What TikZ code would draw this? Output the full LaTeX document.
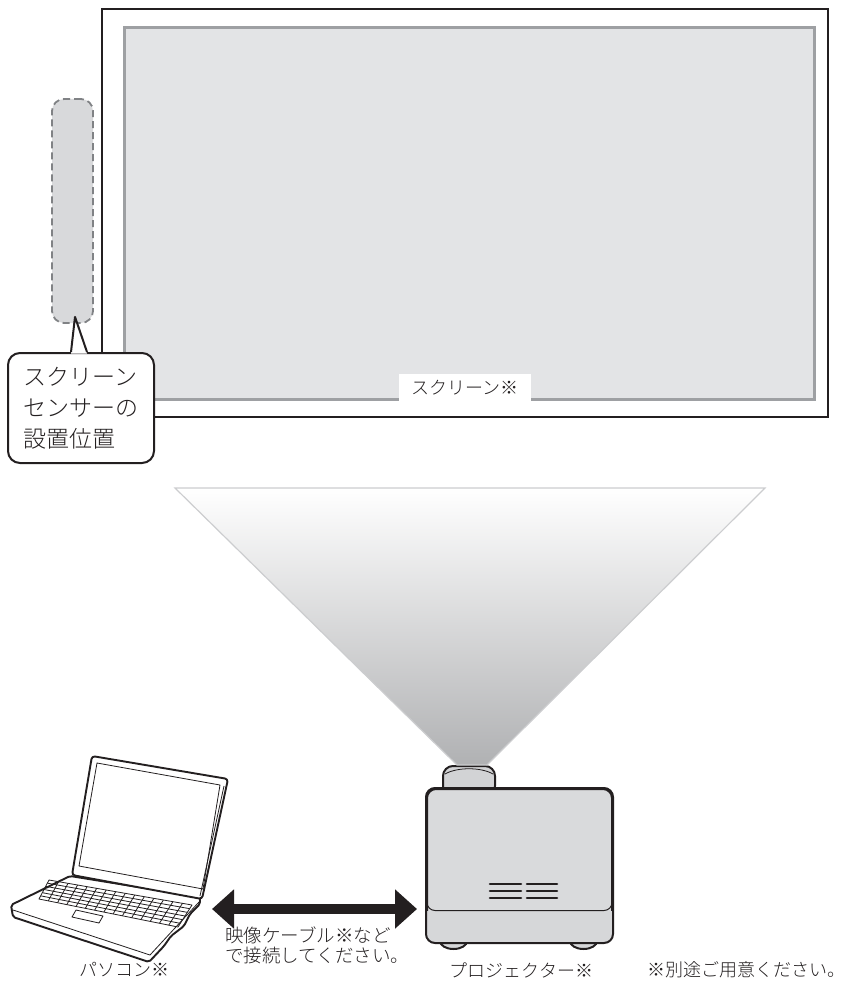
\documentclass[tikz,border=0pt]{standalone}
\usepackage{fontspec}
\setmainfont{Noto Sans CJK JP}[UprightFont=* Light]
\usetikzlibrary{calc,arrows.meta,positioning}
\definecolor{inkBlack}{RGB}{35,31,32}
\definecolor{screenGray}{RGB}{227,228,230}
\definecolor{rimGray}{RGB}{158,160,163}
\definecolor{sensorGray}{RGB}{216,217,219}
\definecolor{dashGray}{RGB}{128,130,133}
\definecolor{bodyGray}{RGB}{217,218,220}
\definecolor{bandGray}{RGB}{214,215,217}
\definecolor{lensGray}{RGB}{210,211,213}
\definecolor{beamGray}{RGB}{176,177,179}
\definecolor{edgeGray}{RGB}{204,205,207}
\tikzset{
  frame/.style={draw=inkBlack,line width=2.2pt,fill=white,minimum width=726pt,minimum height=408pt,inner sep=0pt},
  panel/.style={draw=rimGray,line width=3pt,fill=screenGray,minimum width=690pt,minimum height=371pt,inner sep=0pt},
  tag/.style={fill=white,text=inkBlack,minimum width=132pt,minimum height=28pt,inner sep=0pt,font=\fontsize{18}{20}\selectfont},
  sensor/.style={draw=dashGray,dashed,dash pattern=on 7pt off 4pt,line width=1.8pt,fill=sensorGray,rounded corners=12pt,minimum width=41pt,minimum height=224pt},
  callout/.style={draw=inkBlack,line width=2pt,fill=white,rounded corners=12pt,minimum width=146pt,minimum height=110pt,text width=115pt,align=left,text=inkBlack,font=\fontsize{23}{31}\selectfont},
  callline/.style={draw=inkBlack,line width=2pt,line join=round},
  beam/.style={top color=white,bottom color=beamGray,draw=edgeGray,line width=1.2pt},
  lens/.style={draw=inkBlack,line width=2pt,fill=lensGray,rounded corners=10pt,minimum width=52pt,minimum height=30pt},
  body/.style={draw=inkBlack,line width=2pt,fill=bodyGray,rounded corners=9pt,minimum width=185pt,minimum height=153pt},
  foot/.style={draw=inkBlack,line width=2pt,fill=bandGray},
  vent/.style={draw=inkBlack,line width=2.6pt,line cap=round},
  pcline/.style={draw=inkBlack,line width=1.9pt,line join=round},
  pcthin/.style={draw=inkBlack,line width=0.8pt,line join=round},
  cable/.style={draw=inkBlack,line width=10pt,{Triangle[length=22pt,width=38pt]}-{Triangle[length=22pt,width=38pt]}},
  caption/.style={text=inkBlack,inner sep=0pt,font=\fontsize{18}{20}\selectfont}
}

\begin{document}
\begin{tikzpicture}[x=1pt,y=-1pt]
\useasboundingbox (0,0) rectangle (844,984);

% screen
\node[frame] (screen) at (465,213) {};
\node[panel] (panel) at (469,213.5) {};
\node[tag,anchor=south] (screenlabel) at ($(panel.south)+(-4,1.5)$) {スクリーン※};

% sensor position
\node[sensor] (sensor) at (72.5,211) {};
\node[callout] (sensorlabel) at (81,408) {スクリーン\\センサーの\\設置位置};
\coordinate (tip) at ($(sensor.south)+(2.5,-7)$);
\fill[white] ($(sensorlabel.north)+(-10,1.5)$) -- (tip) -- ($(sensorlabel.north)+(6,1.5)$) -- cycle;
\draw[callline] ($(sensorlabel.north)+(-10,0)$) -- (tip) -- ($(sensorlabel.north)+(6,0)$);

% projector
\node[lens] (lens) at (469,781) {};
\coordinate (beamL) at (175,488);
\coordinate (beamR) at (765,488);
\path[beam] (beamL) -- ($(lens.north)+(-12,0)$) -- ($(lens.north)+(18,0)$) -- (beamR) -- cycle;
\draw[inkBlack,line width=0.8pt] ($(lens.north west)+(3,9)$) .. controls ($(lens.north)+(-12,2)$) and ($(lens.north)+(12,2)$) .. ($(lens.north east)+(-3,9)$);
\draw[foot] (453.5,941) ellipse [x radius=13.5,y radius=8];
\draw[foot] (583.5,941) ellipse [x radius=13.5,y radius=8];
\node[body] (proj) at (519.5,865.5) {};
\begin{scope}
\clip[rounded corners=9pt] (proj.south west) rectangle (proj.north east);
\fill[bandGray] (proj.south west) rectangle ($(proj.east)+(0,45)$);
\end{scope}
\draw[inkBlack,line width=1pt,rounded corners=8pt] ($(proj.west)+(1,34)$) -- ($(proj.west)+(1,45)$) -- ($(proj.east)+(-1,45)$) -- ($(proj.east)+(-1,34)$);
\draw[inkBlack,line width=2pt,rounded corners=9pt] (proj.south west) rectangle (proj.north east);
\foreach \y in {884,891,898}
  \draw[vent] (490,\y) -- (521,\y) (527,\y) -- (557,\y);

% laptop
\draw[pcline,fill=white,rounded corners=2pt] (70,876) -- (11,905) -- (13,917) -- (149,962) -- (164,946) -- (171,936) -- (184,926) -- (190,914) -- (200,904) -- (200,897) -- cycle;
\draw[pcthin] (13,910) -- (150,955) -- (199,902);
\coordinate (kTL) at (49,880);
\coordinate (kTR) at (192,905);
\coordinate (kBR) at (178,927);
\coordinate (kBL) at (39,899);
\draw[pcthin] (kTL) -- (kTR) -- (kBR) -- (kBL) -- cycle;
\foreach \t in {0.1667,0.3333,0.5,0.6667,0.8333}
  \draw[pcthin] ($(kTL)!\t!(kBL)$) -- ($(kTR)!\t!(kBR)$);
\foreach \s in {1,...,14}
  \draw[pcthin] ($(kTL)!\s/15!(kTR)$) -- ($(kBL)!\s/15!(kBR)$);
\draw[pcthin] (76,910) -- (103,916) -- (99,923) -- (72,917) -- cycle;
\draw[pcline,fill=white,rounded corners=3pt] (72,875) -- (92,756) -- (228,779) -- (202,899) -- cycle;
\draw[pcthin] (224,786) -- (200,896);
\draw[pcthin] (79,866) -- (97,763) -- (220,785) -- (203,889) -- cycle;

% cable
\coordinate (pcport) at (212,909);
\draw[cable] (pcport) -- ($(proj.west |- pcport)+(-9,0)$);
\node[caption,anchor=north west,align=left,font=\fontsize{18.5}{19.5}\selectfont] (cablenote) at (225,927) {映像ケーブル※など\\で接続してください。};

% captions
\node[caption] (pclabel) at (124,970) {パソコン※};
\node[caption] (projlabel) at ($(proj.south |- pclabel)+(2,0)$) {プロジェクター※};
\node[caption] (note) at (746,970) {※別途ご用意ください。};
\end{tikzpicture}
\end{document}
